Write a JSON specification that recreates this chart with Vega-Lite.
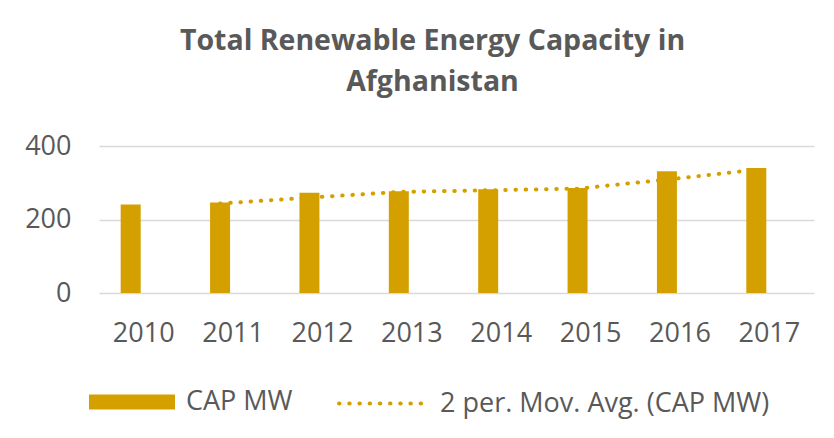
{
  "$schema": "https://vega.github.io/schema/vega-lite/v6.json",
  "width": 715,
  "height": 147,
  "autosize": {"type": "none"},
  "padding": {"left": 99, "top": 146, "right": 20, "bottom": 145},
  "background": "white",
  "title": {
    "text": ["Total Renewable Energy Capacity in", "Afghanistan"],
    "anchor": "middle",
    "dx": -24,
    "font": "Open Sans",
    "fontSize": 28.5,
    "fontWeight": "bold",
    "color": "#595959",
    "lineHeight": 41,
    "offset": 36
  },
  "data": {
    "values": [
      {"year": "2010", "cap": 241, "ma": null},
      {"year": "2011", "cap": 246, "ma": 243.5},
      {"year": "2012", "cap": 273, "ma": 259.5},
      {"year": "2013", "cap": 277, "ma": 275},
      {"year": "2014", "cap": 282, "ma": 279.5},
      {"year": "2015", "cap": 286, "ma": 284},
      {"year": "2016", "cap": 331, "ma": 308.5},
      {"year": "2017", "cap": 340, "ma": 335.5}
    ]
  },
  "config": {
    "view": {"stroke": null},
    "axis": {
      "labelFont": "Open Sans",
      "labelFontSize": 27,
      "labelColor": "#595959",
      "ticks": false,
      "domain": false,
      "title": null
    },
    "legend": {
      "labelFont": "Open Sans",
      "labelFontSize": 27,
      "labelColor": "#595959",
      "labelLimit": 0,
      "title": null
    }
  },
  "encoding": {
    "x": {
      "field": "year",
      "type": "ordinal",
      "scale": {"paddingInner": 0.776, "paddingOuter": 0.388},
      "axis": {"labelAngle": 0, "labelPadding": 27, "grid": false}
    }
  },
  "layer": [
    {
      "mark": {"type": "bar", "xOffset": -13, "width": 20},
      "encoding": {
        "y": {
          "field": "cap",
          "type": "quantitative",
          "scale": {"domain": [0, 400]},
          "axis": {
            "values": [0, 200, 400],
            "grid": true,
            "gridColor": "#D9D9D9",
            "gridWidth": 1.5,
            "labelPadding": 28
          }
        },
        "fill": {
          "datum": "CAP MW",
          "scale": {"range": ["#D4A000"]},
          "legend": {
            "orient": "none",
            "legendX": -10,
            "legendY": 213,
            "symbolType": "M-1,-0.175L1,-0.175L1,0.175L-1,0.175Z",
            "symbolSize": 7396,
            "symbolStrokeWidth": 0,
            "labelOffset": 11
          }
        }
      }
    },
    {
      "mark": {
        "type": "line",
        "xOffset": -13,
        "stroke": "#D4A000",
        "strokeWidth": 4,
        "strokeCap": "round"
      },
      "encoding": {
        "y": {"field": "ma", "type": "quantitative"},
        "strokeDash": {
          "datum": "2 per. Mov. Avg. (CAP MW)",
          "scale": {"range": [[0.5, 9.7]]},
          "legend": {
            "orient": "none",
            "legendX": 238,
            "legendY": 214,
            "symbolType": "stroke",
            "symbolSize": 6889,
            "symbolStrokeColor": "#D4A000",
            "symbolStrokeWidth": 4,
            "labelOffset": 16,
            "encode": {"symbols": {"update": {"strokeCap": {"value": "round"}}}}
          }
        }
      }
    }
  ]
}
